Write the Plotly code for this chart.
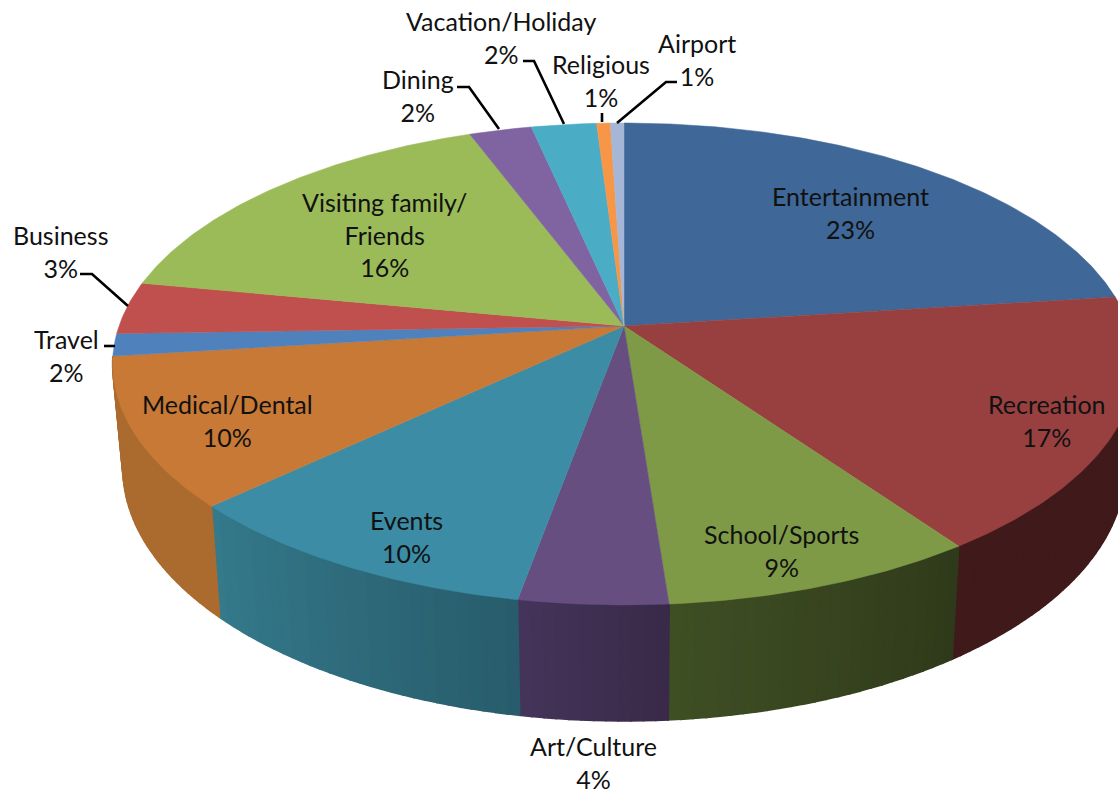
import math
import plotly.graph_objects as go

categories = ["Entertainment", "Recreation", "School/Sports", "Art/Culture", "Events",
              "Medical/Dental", "Travel", "Business", "Visiting family/<br>Friends",
              "Dining", "Vacation/Holiday", "Religious", "Airport"]
shares = [23.0, 17.2, 8.6, 4.05, 10.15, 10.0, 1.5, 3.5, 16.3, 2.3, 2.4, 0.5, 0.5]
percent_labels = ["23%", "17%", "9%", "4%", "10%", "10%", "2%", "3%", "16%", "2%", "2%", "1%", "1%"]

top_colors = ["#3F6797", "#984040", "#7E9A47", "#664F80", "#3B8CA4", "#C77935", "#4F81BD",
              "#C0504D", "#9BBB59", "#8064A2", "#4BACC6", "#F79646", "#A5B6D6"]
wall_light = ["#2A3F5C", "#401A1A", "#3F4F24", "#44345A", "#347A8C", "#AB6B2F", "#3A5F8C",
              "#8A3A38", "#6F8740", "#5C4875", "#367C8F", "#B26C32", "#77839A"]
wall_dark = ["#2A3F5C", "#401A1A", "#2F3A1A", "#392A48", "#285C6B", "#AB6B2F", "#3A5F8C",
             "#8A3A38", "#6F8740", "#5C4875", "#367C8F", "#B26C32", "#77839A"]

label_x = [850, 1047, 781, 593, 406, 227, 66, 60, 384, 418, 501, 601, 697]
label_y = [212, 420, 550, 762, 536, 420, 355, 251, 234, 95, 37, 80, 59]

leader_names = ["Dining", "Vacation/Holiday", "Religious", "Airport", "Business", "Travel"]
leader_x = [[457, 469, 499], [523, 534, 564], [602, 602], [677, 666, 617], [80, 92, 128], [104, 115]]
leader_y = [[87, 87, 129], [61, 61, 124], [113, 122], [82, 82, 123], [274, 274, 306], [346, 346]]

CX, CY, A, B, K = 624, 326, 505, 235, 0.1576
WALL_SCALE_X, WALL_SCALE_Y, WALL_DROP = 0.98, 1.05, 102


def rim(theta, lower=False):
    u, v = math.sin(theta), -math.cos(theta)
    s = 1 / (1 - K * v)
    x, y = A * u * s, B * v * s
    if lower:
        return CX + WALL_SCALE_X * x, CY + WALL_SCALE_Y * y + WALL_DROP
    return CX + x, CY + y


def mix(c1, c2, t):
    a = [int(c1[i:i + 2], 16) for i in (1, 3, 5)]
    b = [int(c2[i:i + 2], 16) for i in (1, 3, 5)]
    return "rgb(%d,%d,%d)" % tuple(round(p + (q - p) * t) for p, q in zip(a, b))


fig = go.Figure()
total = sum(shares)
edges = [0.0]
for s in shares:
    edges.append(edges[-1] + s / total * 2 * math.pi)

# side wall, strip by strip so it carries the shading
for i, s in enumerate(shares):
    t0, t1 = edges[i], edges[i + 1]
    n = max(2, int(s * 3))
    for j in range(n):
        a0 = t0 + (t1 - t0) * j / n
        a1 = t0 + (t1 - t0) * (j + 1) / n
        if -math.cos((a0 + a1) / 2) < K - 0.03:
            continue
        p = [rim(a0), rim(a1), rim(a1, True), rim(a0, True)]
        c = mix(wall_dark[i], wall_light[i], (j + 0.5) / n)
        fig.add_trace(go.Scatter(x=[q[0] for q in p] + [p[0][0]], y=[q[1] for q in p] + [p[0][1]],
                                 mode="lines", fill="toself", fillcolor=c,
                                 line=dict(color=c, width=1.6), hoverinfo="skip", showlegend=False))

# top face
for i, name in enumerate(categories):
    t0, t1 = edges[i], edges[i + 1]
    n = max(4, int(shares[i] * 6))
    pts = [rim(t0 + (t1 - t0) * j / n) for j in range(n + 1)]
    xs = [CX] + [q[0] for q in pts] + [CX]
    ys = [CY] + [q[1] for q in pts] + [CY]
    fig.add_trace(go.Scatter(x=xs, y=ys, mode="lines", fill="toself", fillcolor=top_colors[i],
                             line=dict(color=top_colors[i], width=0.5),
                             name=name, hoverinfo="name", showlegend=False))

for name, lx, ly in zip(leader_names, leader_x, leader_y):
    fig.add_trace(go.Scatter(x=lx, y=ly, mode="lines", line=dict(color="black", width=2.6),
                             name=name, hoverinfo="skip", showlegend=False))

for name, pct, x, y in zip(categories, percent_labels, label_x, label_y):
    fig.add_annotation(x=x, y=y, text=f"{name}<br>{pct}", showarrow=False, xanchor="center",
                       yanchor="middle", align="center",
                       font=dict(family="Lato, 'Open Sans', sans-serif", size=25, color="#111111"))

fig.update_layout(width=1118, height=792, margin=dict(l=0, r=0, t=0, b=0),
                  paper_bgcolor="white", plot_bgcolor="white",
                  xaxis=dict(range=[0, 1118], visible=False, fixedrange=True),
                  yaxis=dict(range=[792, 0], visible=False, fixedrange=True))
fig.write_html("out.html", config={"displayModeBar": False},
               post_script="document.body.style.margin='0';document.body.style.overflow='hidden';")
